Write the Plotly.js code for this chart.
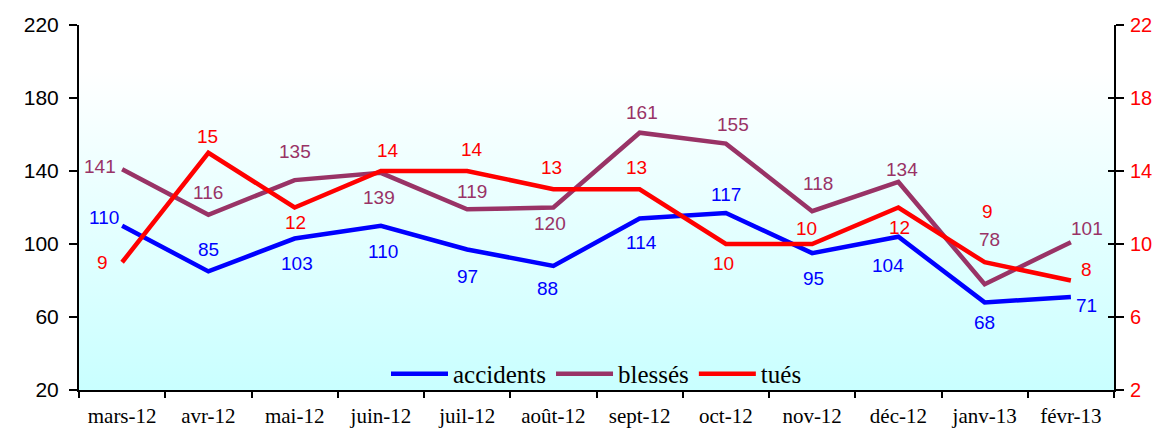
<!DOCTYPE html>
<html>
<head>
<meta charset="utf-8">
<script src="https://cdn.plot.ly/plotly-3.0.1.min.js"></script>
<style>html,body{margin:0;padding:0;background:#fff;}#chart{width:1154px;height:430px;}</style>
</head>
<body>
<div id="chart"></div>
<script>
// ---- data ----
const months = ["mars-12","avr-12","mai-12","juin-12","juil-12","août-12","sept-12","oct-12","nov-12","déc-12","janv-13","févr-13"];
const accidents = [110, 85, 103, 110, 97, 88, 114, 117, 95, 104, 68, 71];
const blesses   = [141, 116, 135, 139, 119, 120, 161, 155, 118, 134, 78, 101];
const tues      = [9, 15, 12, 14, 14, 13, 13, 10, 10, 12, 9, 8];
const leftTicks  = [20, 60, 100, 140, 180, 220];
const rightTicks = [2, 6, 10, 14, 18, 22];

// ---- label offsets (screen px: [dx, dy up]) ----
const offAcc = [[-18,8],[0,22],[2,-25],[2,-26],[0,-27],[-6,-23],[2,-24],[0,18],[1,-25],[-10,-29],[0,-20],[16,-9]];
const offBle = [[-22,3],[0,22],[0,29],[-2,-25],[5,18],[-3,-16],[2,20],[7,19],[6,28],[4,12],[5,45],[16,14]];
const offTue = [[-20,0],[-1,16],[1,-15],[7,21],[5,22],[-2,22],[-3,22],[-2,-19],[-6,16],[1,-20],[3,51],[16,11]];

const cAcc = "#0000ff", cBle = "#993366", cTue = "#ff0000";
const sans = "Liberation Sans, Arial, sans-serif";
const serif = "Liberation Serif, Times New Roman, serif";

const traces = [
  {x: months, y: accidents, name: "accidents", type: "scatter", mode: "lines",
   line: {color: cAcc, width: 4.5}, yaxis: "y", hoverinfo: "skip"},
  {x: months, y: blesses, name: "blessés", type: "scatter", mode: "lines",
   line: {color: cBle, width: 4.5}, yaxis: "y", hoverinfo: "skip"},
  {x: months, y: tues, name: "tués", type: "scatter", mode: "lines",
   line: {color: cTue, width: 4.5}, yaxis: "y2", hoverinfo: "skip"},
  {x: [], y: [], yaxis: "y3", showlegend: false, type: "scatter", mode: "lines", hoverinfo: "skip"}
];

function labels(vals, offs, color, yref) {
  return vals.map((v, i) => ({
    x: months[i], y: v, xref: "x", yref: yref, text: String(v), showarrow: false,
    xanchor: "center", yanchor: "middle", xshift: offs[i][0], yshift: offs[i][1],
    font: {family: sans, size: 19, color: color}
  }));
}
const annotations = [].concat(
  labels(accidents, offAcc, cAcc, "y"),
  labels(blesses, offBle, cBle, "y"),
  labels(tues, offTue, cTue, "y2")
);

const svg = '<svg xmlns="http://www.w3.org/2000/svg" width="100" height="100" preserveAspectRatio="none">' +
  '<defs><linearGradient id="g" x1="0" y1="0" x2="0" y2="1">' +
  '<stop offset="0" stop-color="#ffffff"/><stop offset="0.12" stop-color="#ffffff"/>' +
  '<stop offset="1" stop-color="#c9ffff"/></linearGradient></defs>' +
  '<rect x="0" y="0" width="100" height="100" fill="url(#g)"/></svg>';
const bg = "data:image/svg+xml;charset=utf-8," + encodeURIComponent(svg);

const layout = {
  width: 1154, height: 430,
  margin: {l: 79, r: 40, t: 25, b: 40, pad: 0},
  paper_bgcolor: "#ffffff",
  plot_bgcolor: "rgba(0,0,0,0)",
  showlegend: true,
  images: [{source: bg, xref: "paper", yref: "paper", x: 0, y: 1, sizex: 1, sizey: 1,
            xanchor: "left", yanchor: "top", sizing: "stretch", layer: "below"}],
  xaxis: {
    type: "category", range: [-0.5, 11.5], tickson: "boundaries",
    ticks: "outside", ticklen: 6, tickwidth: 2, tickcolor: "#000",
    showline: true, linewidth: 2, linecolor: "#000", showgrid: false, zeroline: false,
    tickfont: {family: serif, size: 21, color: "#000"}, ticklabelstandoff: 6, fixedrange: true
  },
  yaxis: {
    range: [20, 220], tickmode: "array", tickvals: leftTicks, ticktext: leftTicks.map(String),
    ticks: "outside", ticklen: 8, tickwidth: 2, tickcolor: "#000",
    showline: true, linewidth: 2, linecolor: "#000", showgrid: false, zeroline: false,
    tickfont: {family: sans, size: 21, color: "#000"}, ticklabelstandoff: 6, fixedrange: true
  },
  yaxis2: {
    overlaying: "y", side: "right", range: [2, 22], tickmode: "array",
    tickvals: rightTicks, ticktext: rightTicks.map(String),
    ticks: "outside", ticklen: 8, tickwidth: 2, tickcolor: "#000",
    showline: true, linewidth: 2, linecolor: "#000", showgrid: false, zeroline: false,
    tickfont: {family: sans, size: 20, color: "#ff0000"}, ticklabelstandoff: 2, fixedrange: true
  },
  yaxis3: {
    overlaying: "y", side: "right", range: [2, 22], tickmode: "array",
    tickvals: rightTicks, ticks: "inside", ticklen: 6, tickwidth: 2, tickcolor: "#000",
    showticklabels: false, showline: false, showgrid: false, zeroline: false, fixedrange: true
  },
  legend: {
    orientation: "h", x: 0.5, xanchor: "center", y: 0.044, yanchor: "middle",
    bgcolor: "rgba(0,0,0,0)", itemwidth: 57, traceorder: "normal",
    font: {family: serif, size: 25, color: "#000"}
  },
  annotations: annotations
};

Plotly.newPlot("chart", traces, layout, {staticPlot: true, displayModeBar: false});
</script>
</body>
</html>
